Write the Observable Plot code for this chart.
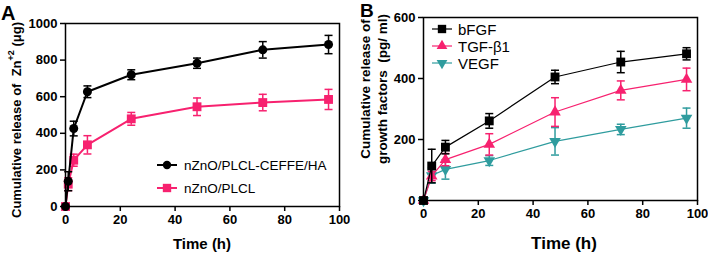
<!DOCTYPE html>
<html>
<head>
<meta charset="utf-8">
<script src="https://cdn.jsdelivr.net/npm/d3@7"></script>
<script src="https://cdn.jsdelivr.net/npm/@observablehq/plot@0.6"></script>
<style>
  html, body { margin: 0; padding: 0; background: #fff; }
  #wrap { position: relative; width: 708px; height: 253px; overflow: hidden; font-family: "Liberation Sans", Arial, sans-serif; }
  #wrap svg { position: absolute; top: 0; overflow: visible; }
</style>
</head>
<body>
<div id="wrap"></div>
<script>
// ---------- Panel A data ----------
const timeA = [0, 1, 3, 8, 24, 48, 72, 96];
const zincCeffe = [0, 138, 426, 627, 720, 783, 856, 885];
const zincCeffeErr = [0, 52, 40, 32, 27, 28, 45, 50];
const zincPlcl = [0, 122, 253, 337, 479, 545, 568, 585];
const zincPlclErr = [0, 35, 33, 50, 35, 48, 45, 55];
const seriesA = ["nZnO/PLCL-CEFFE/HA", "nZnO/PLCL"];
const ticksXA = [0, 20, 40, 60, 80, 100];
const ticksYA = [0, 200, 400, 600, 800, 1000];

// ---------- Panel B data ----------
const timeB = [0, 3, 8, 24, 48, 72, 96];
const bfgf = [0, 113, 175, 261, 405, 454, 481];
const bfgfErr = [0, 55, 22, 24, 22, 35, 20];
const tgf = [0, 80, 134, 184, 290, 361, 397];
const tgfErr = [0, 15, 20, 35, 47, 31, 37];
const vegf = [0, 82, 102, 131, 194, 233, 270];
const vegfErr = [0, 25, 32, 16, 45, 17, 33];
const seriesB = ["bFGF", "TGF-\u03B21", "VEGF"];
const ticksXB = [0, 20, 40, 60, 80, 100];
const ticksYB = [0, 200, 400, 600];

const BLACK = "#000000", PINK = "#f7216f", TEAL = "#2f9c9e";

const sqrt3 = Math.sqrt(3);
const triDown = {
  draw(ctx, size) {
    const y = -Math.sqrt(size / (sqrt3 * 3));
    ctx.moveTo(0, -y * 2);
    ctx.lineTo(-sqrt3 * y, y);
    ctx.lineTo(sqrt3 * y, y);
    ctx.closePath();
  }
};
const capSym = {
  draw(ctx, size) {
    const w = Math.sqrt(size / Math.PI);
    ctx.moveTo(-w, 0);
    ctx.lineTo(w, 0);
  }
};

function rows(ts, vs, es, name) {
  return ts.map((t, i) => ({t, v: vs[i], e: es[i], s: name}));
}

const dataA = [
  ...rows(timeA, zincCeffe, zincCeffeErr, seriesA[0]),
  ...rows(timeA, zincPlcl, zincPlclErr, seriesA[1])
];
const dataB = [
  ...rows(timeB, bfgf, bfgfErr, seriesB[0]),
  ...rows(timeB, tgf, tgfErr, seriesB[1]),
  ...rows(timeB, vegf, vegfErr, seriesB[2])
];

function seriesMarks(data, name, color, symbol, r, lw, capR) {
  const d = data.filter(x => x.s === name);
  const de = d.filter(x => x.e > 0);
  return [
    Plot.line(d, {x: "t", y: "v", stroke: color, strokeWidth: lw}),
    Plot.ruleX(de, {x: "t", y1: x => x.v - x.e, y2: x => x.v + x.e, stroke: color, strokeWidth: 1.5}),
    Plot.dot(de, {x: "t", y: x => x.v - x.e, symbol: capSym, r: capR, fill: "none", stroke: color, strokeWidth: 1.5}),
    Plot.dot(de, {x: "t", y: x => x.v + x.e, symbol: capSym, r: capR, fill: "none", stroke: color, strokeWidth: 1.5}),
    Plot.dot(d, {x: "t", y: "v", symbol, r, fill: color, stroke: "none"})
  ];
}

const axisStyle = {tickSize: 5, tickPadding: 3, strokeWidth: 1.5, fontSize: 13, fontWeight: "bold", label: null, tickFormat: d => String(d)};

// ---------- Panel A ----------
const plotA = Plot.plot({
  width: 350, height: 253,
  marginLeft: 65, marginRight: 11, marginTop: 23, marginBottom: 47,
  style: {fontFamily: "Liberation Sans, Arial, sans-serif", fontSize: "13px", fontWeight: "bold", color: "#000", background: "transparent"},
  x: {domain: [0, 100]},
  y: {domain: [0, 1000]},
  marks: [
    ...seriesMarks(dataA, seriesA[1], PINK, "square", 5, 2, 4),
    ...seriesMarks(dataA, seriesA[0], BLACK, "circle", 4.5, 2, 4),
    Plot.frame({strokeWidth: 1.5}),
    Plot.axisX({...axisStyle, ticks: ticksXA}),
    Plot.axisY({...axisStyle, ticks: ticksYA})
  ]
});
plotA.style.left = "0px";

// ---------- Panel B ----------
const plotB = Plot.plot({
  width: 358, height: 253,
  marginLeft: 73, marginRight: 11, marginTop: 17, marginBottom: 53,
  style: {fontFamily: "Liberation Sans, Arial, sans-serif", fontSize: "13px", fontWeight: "bold", color: "#000", background: "transparent"},
  x: {domain: [0, 100]},
  y: {domain: [0, 600]},
  marks: [
    ...seriesMarks(dataB, seriesB[2], TEAL, triDown, 4.3, 1.2, 4),
    ...seriesMarks(dataB, seriesB[1], PINK, "triangle", 4.3, 1.2, 4),
    ...seriesMarks(dataB, seriesB[0], BLACK, "square", 5, 1.2, 4),
    Plot.frame({strokeWidth: 1.5}),
    Plot.axisX({...axisStyle, ticks: ticksXB}),
    Plot.axisY({...axisStyle, ticks: ticksYB})
  ]
});
plotB.style.left = "350px";

const wrap = document.getElementById("wrap");
wrap.appendChild(plotA);
wrap.appendChild(plotB);

const FONT = "Liberation Sans, Arial, sans-serif";

function txt(svg, x, y, size, weight, anchor, content) {
  return svg.append("text").attr("x", x).attr("y", y).attr("font-size", size).attr("font-weight", weight)
    .attr("font-family", FONT).attr("fill", "#000").attr("text-anchor", anchor).text(content);
}

// ---------- Text & legends: Panel A ----------
{
  const svg = d3.select(plotA);
  txt(svg, 1, 19.5, 20, "bold", "start", "A");
  txt(svg, 202, 249, 15, "bold", "middle", "Time (h)");
  const yl = svg.append("text").attr("transform", "translate(16,120) rotate(-90)")
    .attr("text-anchor", "middle").attr("dominant-baseline", "central").attr("font-size", 13)
    .attr("font-weight", "bold").attr("font-family", FONT).attr("fill", "#000");
  yl.append("tspan").text("Cumulative release of\u00A0\u00A0Zn");
  yl.append("tspan").attr("dy", -5).attr("font-size", 9).text("+2");
  yl.append("tspan").attr("dy", 5).text(" (\u03BCg)");

  const leg = [{name: seriesA[0], color: BLACK, sym: d3.symbolCircle, size: Math.PI * 4.2 * 4.2, y: 165},
               {name: seriesA[1], color: PINK, sym: d3.symbolSquare, size: 70, y: 188}];
  leg.forEach(l => {
    svg.append("line").attr("x1", 157).attr("x2", 177).attr("y1", l.y).attr("y2", l.y)
      .attr("stroke", l.color).attr("stroke-width", 2);
    svg.append("path").attr("d", d3.symbol(l.sym, l.size)()).attr("transform", `translate(167,${l.y})`).attr("fill", l.color);
    txt(svg, 184, l.y, 13.5, "normal", "start", l.name).attr("dominant-baseline", "central");
  });
}

// ---------- Text & legends: Panel B ----------
{
  const svg = d3.select(plotB);
  txt(svg, 10, 17, 19, "bold", "start", "B");
  txt(svg, 214, 249, 17, "bold", "middle", "Time (h)");
  [["Cumulative release of", 15], ["growth factors\u00A0\u00A0(pg/ ml)", 32]].forEach(([t, x]) => {
    svg.append("text").attr("transform", `translate(${x},89) rotate(-90)`)
      .attr("text-anchor", "middle").attr("dominant-baseline", "central").attr("font-size", 13.5)
      .attr("font-weight", "bold").attr("font-family", FONT).attr("fill", "#000").text(t);
  });
  const leg = [{name: seriesB[0], color: BLACK, sym: d3.symbolSquare, size: 70, y: 29},
               {name: seriesB[1], color: PINK, sym: d3.symbolTriangle, size: 50, y: 46},
               {name: seriesB[2], color: TEAL, sym: triDown, size: 50, y: 63}];
  leg.forEach(l => {
    svg.append("line").attr("x1", 82).attr("x2", 102).attr("y1", l.y).attr("y2", l.y)
      .attr("stroke", l.color).attr("stroke-width", 1.2);
    svg.append("path").attr("d", d3.symbol(l.sym, l.size)()).attr("transform", `translate(92,${l.y})`).attr("fill", l.color);
    txt(svg, 108, l.y, 15, "normal", "start", l.name).attr("dominant-baseline", "central");
  });
}
</script>
</body>
</html>
